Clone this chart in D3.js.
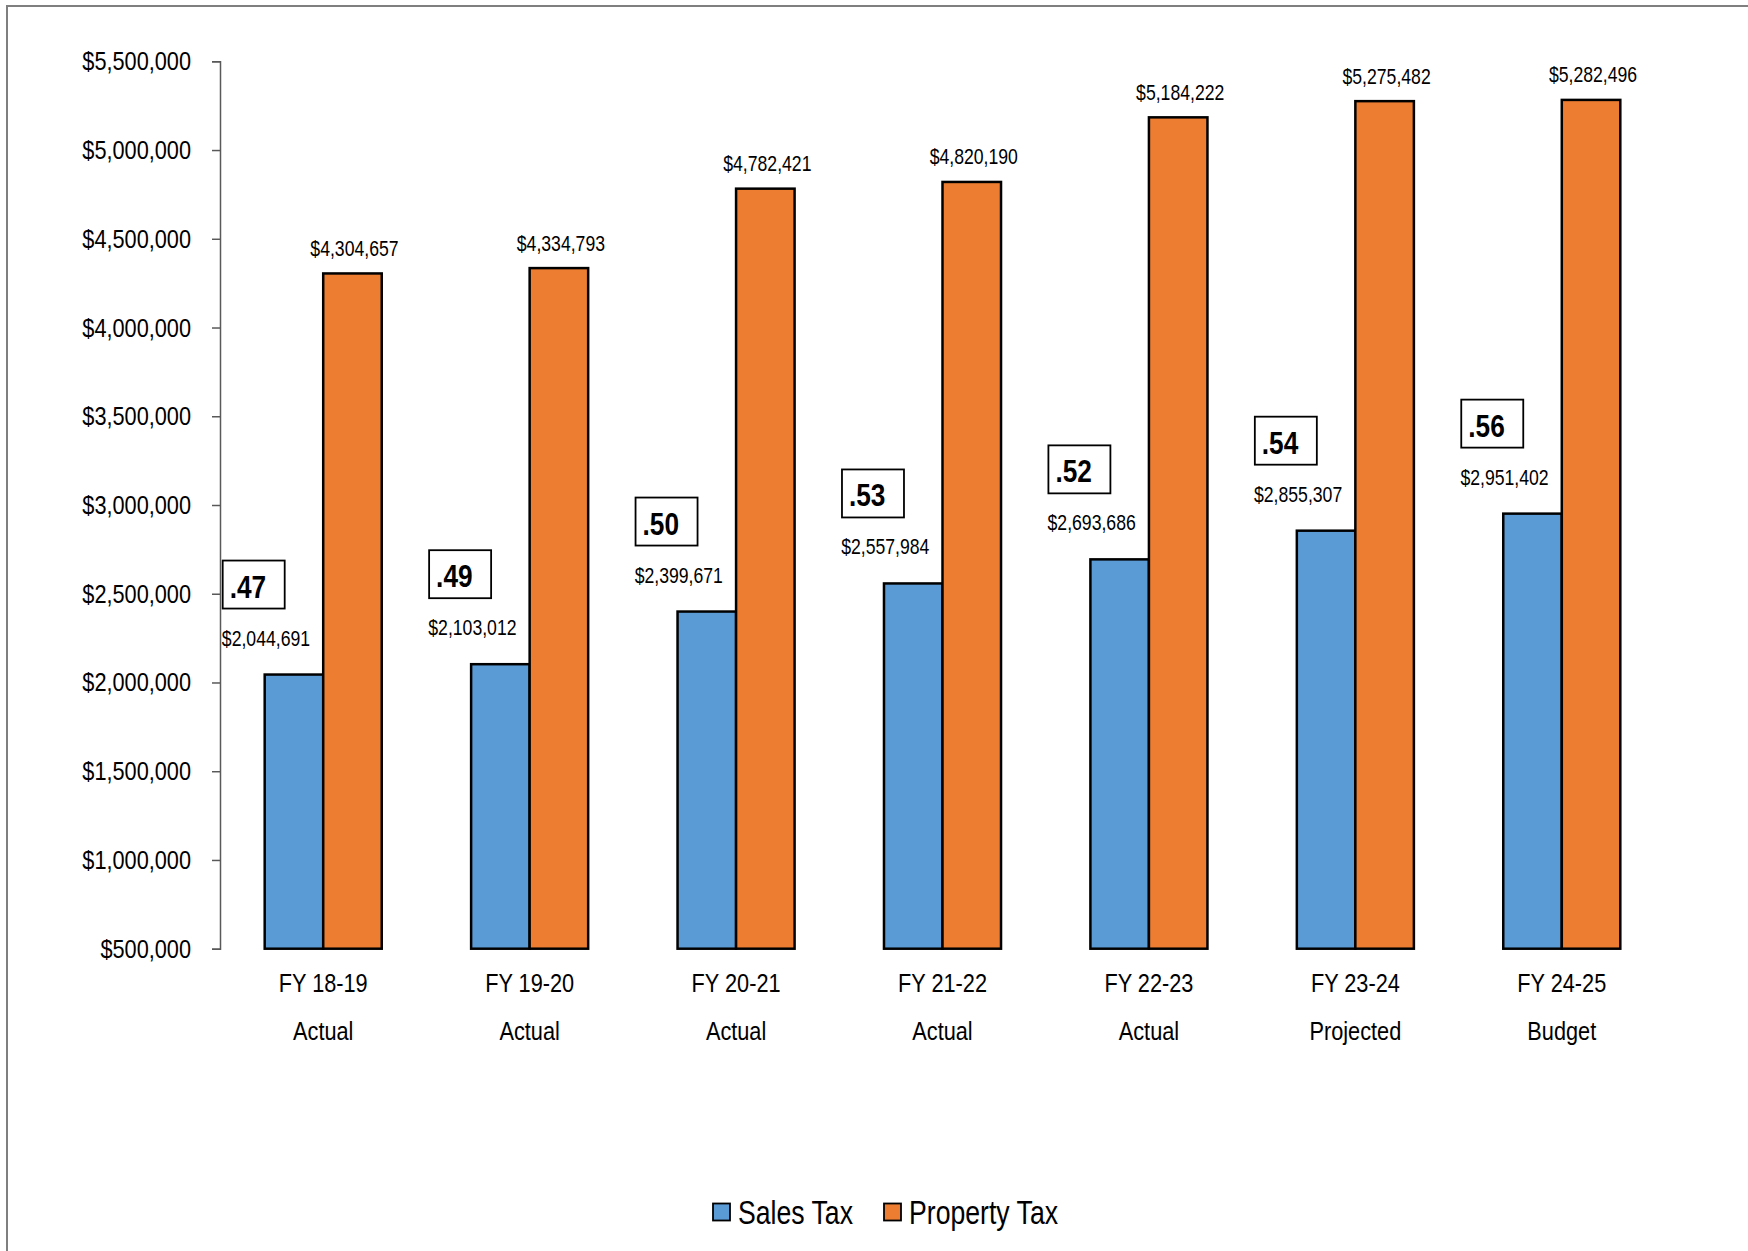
<!DOCTYPE html>
<html>
<head>
<meta charset="utf-8">
<script src="https://cdn.jsdelivr.net/npm/d3@7"></script>
<style>
  html, body { margin: 0; padding: 0; background: #fff; }
  svg { display: block; }
  text { font-family: "Liberation Sans", Arial, sans-serif; fill: #000; }
</style>
</head>
<body>
<svg id="chart" width="1748" height="1251"></svg>
<script>
// Fiscal years and their status line
const years = ["FY 18-19", "FY 19-20", "FY 20-21", "FY 21-22", "FY 22-23", "FY 23-24", "FY 24-25"];
const status = ["Actual", "Actual", "Actual", "Actual", "Actual", "Projected", "Budget"];

// Revenue by source
const salesTax = [2044691, 2103012, 2399671, 2557984, 2693686, 2855307, 2951402];
const propertyTax = [4304657, 4334793, 4782421, 4820190, 5184222, 5275482, 5282496];

// Sales-to-property ratio callouts
const ratios = [".47", ".49", ".50", ".53", ".52", ".54", ".56"];

// Axis ticks
const yTicks = [500000, 1000000, 1500000, 2000000, 2500000, 3000000, 3500000, 4000000, 4500000, 5000000, 5500000];

const seriesNames = ["Sales Tax", "Property Tax"];
const seriesColors = ["#5B9BD5", "#ED7D31"];

// narrow-face look: squeeze text horizontally around its anchor point
const NARROW = 0.82;
function narrow(sel) {
  sel.each(function () {
    const t = d3.select(this);
    const x = +t.attr("x") || 0, yy = +t.attr("y") || 0;
    t.attr("x", 0).attr("y", 0)
      .attr("transform", `translate(${x},${yy}) scale(${NARROW},1)`);
  });
}

const svg = d3.select("#chart");

// outer frame
svg.append("rect")
  .attr("x", 7).attr("y", 6)
  .attr("width", 1800).attr("height", 1400)
  .attr("fill", "none").attr("stroke", "#7f7f7f").attr("stroke-width", 2);

const plot = { left: 220, right: 1665, top: 61.3, bottom: 948.7 };

const x0 = d3.scaleBand()
  .domain(years)
  .range([plot.left, plot.right])
  .paddingInner(0.433)
  .paddingOuter(0.2165);

const x1 = d3.scaleBand()
  .domain(seriesNames)
  .range([0, x0.bandwidth()]);

const y = d3.scaleLinear()
  .domain([500000, 5500000])
  .range([plot.bottom, plot.top]);

// y axis
const fmt = d3.format(",");
const yAxis = svg.append("g")
  .attr("transform", `translate(${plot.left},0)`)
  .call(d3.axisLeft(y).tickValues(yTicks).tickSize(8).tickSizeOuter(8).tickPadding(21)
    .tickFormat(d => "$" + fmt(d)));
yAxis.selectAll("path, line").attr("stroke", "#595959").attr("stroke-width", 1.5);
yAxis.selectAll("text")
  .style("font-family", '"Liberation Sans", Arial, sans-serif')
  .attr("font-size", 26.5).attr("fill", "#000")
  .call(narrow);

const rows = years.map((yr, i) => ({
  year: yr,
  status: status[i],
  values: [salesTax[i], propertyTax[i]],
  ratio: ratios[i]
}));

const groups = svg.append("g").selectAll("g")
  .data(rows).join("g")
  .attr("transform", d => `translate(${x0(d.year)},0)`);

// bars
groups.selectAll("rect")
  .data(d => d.values.map((v, k) => ({ name: seriesNames[k], value: v, k })))
  .join("rect")
  .attr("x", d => x1(d.name))
  .attr("y", d => y(d.value))
  .attr("width", x1.bandwidth())
  .attr("height", d => y(500000) - y(d.value))
  .attr("fill", d => seriesColors[d.k])
  .attr("stroke", "#000")
  .attr("stroke-width", 2.5);

// value labels
groups.selectAll("text.val")
  .data(d => d.values.map((v, k) => ({ name: seriesNames[k], value: v, k })))
  .join("text")
  .attr("class", "val")
  .attr("x", d => x1(d.name) + x1.bandwidth() / 2 + (d.k === 0 ? -28 : 2))
  .attr("y", d => y(d.value) - (d.k === 0 ? 29 : 17.5))
  .attr("text-anchor", "middle")
  .attr("font-size", 21.5)
  .text(d => "$" + fmt(d.value))
  .call(narrow);

// ratio callout boxes
const boxW = 62, boxH = 48;
const callout = groups.append("g")
  .attr("transform", d => `translate(${x1(seriesNames[0]) - 42},${y(d.values[0]) - 66 - boxH})`);
callout.append("rect")
  .attr("width", boxW).attr("height", boxH)
  .attr("fill", "#fff").attr("stroke", "#000").attr("stroke-width", 1.8);
callout.append("text")
  .attr("x", 7).attr("y", 37)
  .attr("font-size", 32).attr("font-weight", "bold")
  .text(d => d.ratio)
  .call(narrow);

// category labels (two lines)
groups.append("text")
  .attr("x", x0.bandwidth() / 2).attr("y", 991.5)
  .attr("text-anchor", "middle").attr("font-size", 26.5)
  .text(d => d.year)
  .call(narrow);
groups.append("text")
  .attr("x", x0.bandwidth() / 2).attr("y", 1039.5)
  .attr("text-anchor", "middle").attr("font-size", 26.5)
  .text(d => d.status)
  .call(narrow);

// legend
const legend = svg.append("g").attr("transform", "translate(713,1212)");
const legendX = [0, 171];
const item = legend.selectAll("g").data(seriesNames).join("g")
  .attr("transform", (d, i) => `translate(${legendX[i]},0)`);
item.append("rect")
  .attr("x", 0).attr("y", -8.5).attr("width", 17).attr("height", 17)
  .attr("fill", (d, i) => seriesColors[i]).attr("stroke", "#000").attr("stroke-width", 1.8);
item.append("text")
  .attr("x", 25).attr("y", 11.5)
  .attr("font-size", 32.5)
  .text(d => d)
  .call(narrow);
</script>
</body>
</html>
